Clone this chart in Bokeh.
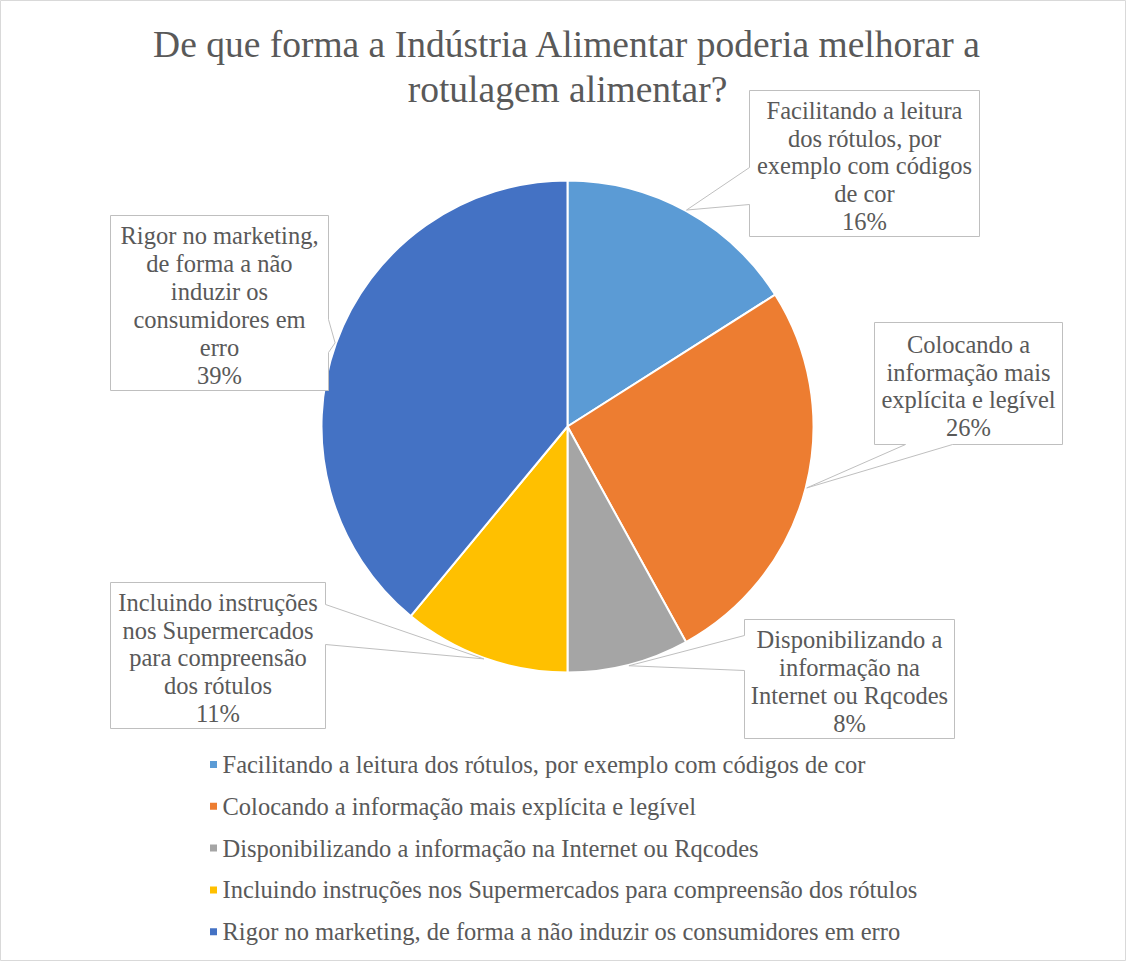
import numpy as np
from bokeh.plotting import figure
from bokeh.models import Range1d, ColumnDataSource
from bokeh.core.properties import value
from bokeh.embed import file_html
from bokeh.resources import INLINE

# ---------------- data ----------------
title_lines = ["De que forma a Indústria Alimentar poderia melhorar a",
               "rotulagem alimentar?"]
categories = [
    "Facilitando a leitura dos rótulos, por exemplo com códigos de cor",
    "Colocando a informação mais explícita e legível",
    "Disponibilizando a informação na Internet ou Rqcodes",
    "Incluindo instruções nos Supermercados para compreensão dos rótulos",
    "Rigor no marketing, de forma a não induzir os consumidores em erro",
]
callout_labels = [
    "Facilitando a leitura\ndos rótulos, por\nexemplo com códigos\nde cor",
    "Colocando a\ninformação mais\nexplícita e legível",
    "Disponibilizando a\ninformação na\nInternet ou Rqcodes",
    "Incluindo instruções\nnos Supermercados\npara compreensão\ndos rótulos",
    "Rigor no marketing,\nde forma a não\ninduzir os\nconsumidores em\nerro",
]
percent = [16, 26, 8, 11, 39]
colors = ["#5B9BD5", "#ED7D31", "#A5A5A5", "#FFC000", "#4472C4"]

# ---------------- layout ----------------
W, H = 1126, 961
FONT = "Liberation Serif"
TXT = "#595959"
BORDER = "#BFBFBF"


def X(sx):
    return sx - 8


def Y(sy):
    return H + 8 - sy


p = figure(width=W, height=H, output_backend="svg", toolbar_location=None,
           x_range=Range1d(0, W), y_range=Range1d(0, H),
           x_axis_location=None, y_axis_location=None, min_border=0,
           background_fill_color="white", border_fill_color="white")
p.grid.visible = False
p.outline_line_color = "#D9D9D9"
p.outline_line_width = 1

# pie
cx_s, cy_s, R = 575, 434, 246
frac = np.array(percent, dtype=float) / sum(percent)
cum = np.concatenate([[0.0], np.cumsum(frac)])
start = np.pi / 2 - 2 * np.pi * cum[:-1]
end = np.pi / 2 - 2 * np.pi * cum[1:]
pie_src = ColumnDataSource(dict(start=start, end=end, color=colors, cat=categories))
p.wedge(x=X(cx_s), y=Y(cy_s), radius=R, start_angle="start", end_angle="end",
        direction="clock", fill_color="color", line_color="white", line_width=2,
        source=pie_src)

# callouts: (left, top, right, bottom, side, base1, base2) in screen px
boxes = [
    (757, 98, 987, 244, "left", 175, 212),
    (882, 330, 1070, 452, "bottom", 913, 960),
    (752, 627, 962, 746, "left", 643, 678),
    (118, 590, 333, 736, "right", 612, 652),
    (118, 223, 336, 398, "right", 327, 360),
]
xs, ys, tx, ty, tt = [], [], [], [], []
Rt = 247
for i, (L, T, Rr, B, side, b1, b2) in enumerate(boxes):
    mid = (cum[i] + cum[i + 1]) / 2 * 2 * np.pi
    tip = (cx_s + Rt * np.sin(mid), cy_s - Rt * np.cos(mid))
    if side == "left":
        pts = [(L, T), (Rr, T), (Rr, B), (L, B), (L, b2), tip, (L, b1)]
    elif side == "right":
        pts = [(L, T), (Rr, T), (Rr, b1), tip, (Rr, b2), (Rr, B), (L, B)]
    else:
        pts = [(L, T), (Rr, T), (Rr, B), (b2, B), tip, (b1, B), (L, B)]
    xs.append([X(a) for a, b in pts])
    ys.append([Y(b) for a, b in pts])
    tx.append(X((L + Rr) / 2))
    ty.append(Y((T + B) / 2 + 2.5))
    tt.append(callout_labels[i] + "\n" + f"{percent[i]}%")

p.patches(xs=xs, ys=ys, fill_color="white", line_color=BORDER, line_width=1)
p.text(x=tx, y=ty, text=tt, text_font=value(FONT), text_font_size="24.5px",
       text_color=TXT, text_align="center", text_baseline="middle",
       text_line_height=1.03)

# title
p.text(x=[X(575)], y=[Y(74.5)], text=["\n".join(title_lines)], text_font=value(FONT),
       text_font_size="37.5px", text_color=TXT, text_align="center",
       text_baseline="middle", text_line_height=1.08)

# legend
leg_y = [Y(772 + i * 41.8) for i in range(len(categories))]
p.scatter(x=[X(221)] * len(categories), y=leg_y, marker="square", size=7,
          fill_color=colors, line_color=None)
p.text(x=[X(230)] * len(categories), y=leg_y, text=categories,
       text_font=value(FONT), text_font_size="24.5px", text_color=TXT,
       text_align="left", text_baseline="middle")

open("out.html", "w").write(file_html(p, INLINE))
